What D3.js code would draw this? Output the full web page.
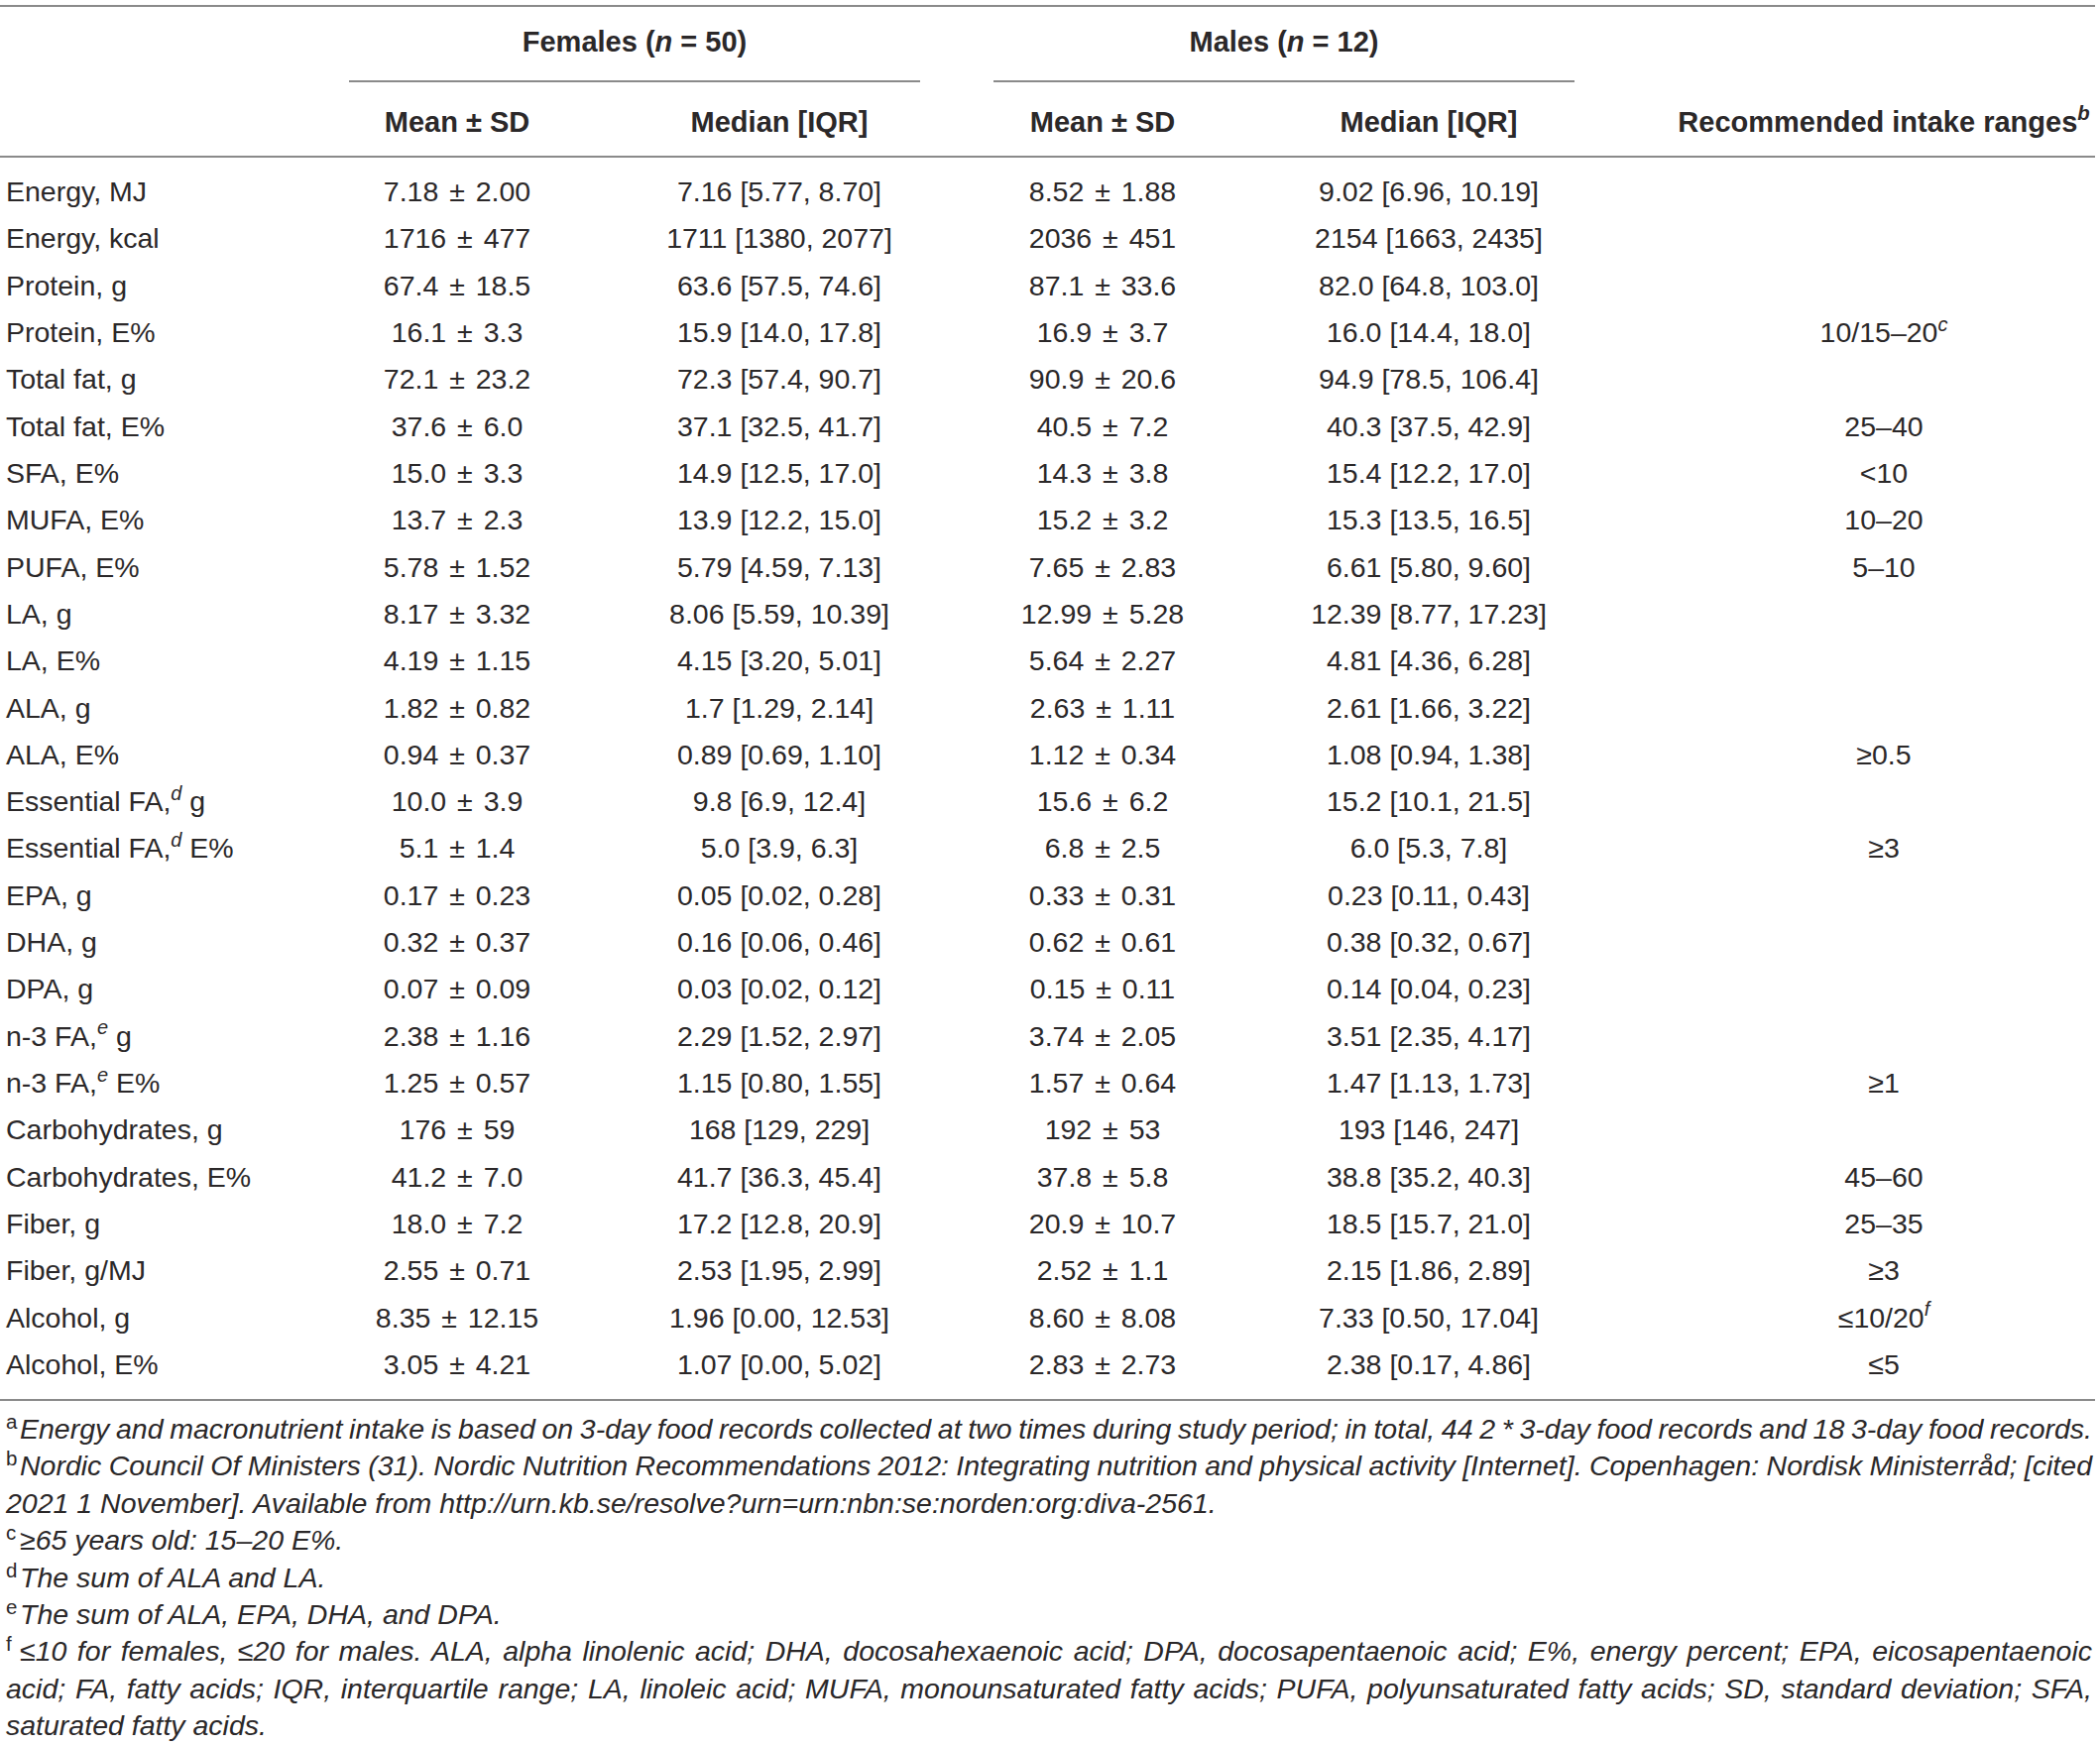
<!DOCTYPE html>
<html>
<head>
<meta charset="utf-8">
<script src="https://cdn.jsdelivr.net/npm/d3@7"></script>
<style>
  body { margin: 0; background: #fff; }
  text { font-family: "Liberation Sans", Arial, sans-serif; fill: #2b2829; }
</style>
</head>
<body>
<svg id="chart"></svg>
<script>
// ^x^ = italic superscript, _x_ = italic
const rowLabels = [
  "Energy, MJ", "Energy, kcal", "Protein, g", "Protein, E%", "Total fat, g", "Total fat, E%",
  "SFA, E%", "MUFA, E%", "PUFA, E%", "LA, g", "LA, E%", "ALA, g", "ALA, E%",
  "Essential FA,^d^ g", "Essential FA,^d^ E%", "EPA, g", "DHA, g", "DPA, g",
  "n-3 FA,^e^ g", "n-3 FA,^e^ E%", "Carbohydrates, g", "Carbohydrates, E%",
  "Fiber, g", "Fiber, g/MJ", "Alcohol, g", "Alcohol, E%"
];
const femaleMean = [
  "7.18 ± 2.00", "1716 ± 477", "67.4 ± 18.5", "16.1 ± 3.3", "72.1 ± 23.2", "37.6 ± 6.0",
  "15.0 ± 3.3", "13.7 ± 2.3", "5.78 ± 1.52", "8.17 ± 3.32", "4.19 ± 1.15", "1.82 ± 0.82",
  "0.94 ± 0.37", "10.0 ± 3.9", "5.1 ± 1.4", "0.17 ± 0.23", "0.32 ± 0.37", "0.07 ± 0.09",
  "2.38 ± 1.16", "1.25 ± 0.57", "176 ± 59", "41.2 ± 7.0", "18.0 ± 7.2", "2.55 ± 0.71",
  "8.35 ± 12.15", "3.05 ± 4.21"
];
const femaleMedian = [
  "7.16 [5.77, 8.70]", "1711 [1380, 2077]", "63.6 [57.5, 74.6]", "15.9 [14.0, 17.8]",
  "72.3 [57.4, 90.7]", "37.1 [32.5, 41.7]", "14.9 [12.5, 17.0]", "13.9 [12.2, 15.0]",
  "5.79 [4.59, 7.13]", "8.06 [5.59, 10.39]", "4.15 [3.20, 5.01]", "1.7 [1.29, 2.14]",
  "0.89 [0.69, 1.10]", "9.8 [6.9, 12.4]", "5.0 [3.9, 6.3]", "0.05 [0.02, 0.28]",
  "0.16 [0.06, 0.46]", "0.03 [0.02, 0.12]", "2.29 [1.52, 2.97]", "1.15 [0.80, 1.55]",
  "168 [129, 229]", "41.7 [36.3, 45.4]", "17.2 [12.8, 20.9]", "2.53 [1.95, 2.99]",
  "1.96 [0.00, 12.53]", "1.07 [0.00, 5.02]"
];
const maleMean = [
  "8.52 ± 1.88", "2036 ± 451", "87.1 ± 33.6", "16.9 ± 3.7", "90.9 ± 20.6", "40.5 ± 7.2",
  "14.3 ± 3.8", "15.2 ± 3.2", "7.65 ± 2.83", "12.99 ± 5.28", "5.64 ± 2.27", "2.63 ± 1.11",
  "1.12 ± 0.34", "15.6 ± 6.2", "6.8 ± 2.5", "0.33 ± 0.31", "0.62 ± 0.61", "0.15 ± 0.11",
  "3.74 ± 2.05", "1.57 ± 0.64", "192 ± 53", "37.8 ± 5.8", "20.9 ± 10.7", "2.52 ± 1.1",
  "8.60 ± 8.08", "2.83 ± 2.73"
];
const maleMedian = [
  "9.02 [6.96, 10.19]", "2154 [1663, 2435]", "82.0 [64.8, 103.0]", "16.0 [14.4, 18.0]",
  "94.9 [78.5, 106.4]", "40.3 [37.5, 42.9]", "15.4 [12.2, 17.0]", "15.3 [13.5, 16.5]",
  "6.61 [5.80, 9.60]", "12.39 [8.77, 17.23]", "4.81 [4.36, 6.28]", "2.61 [1.66, 3.22]",
  "1.08 [0.94, 1.38]", "15.2 [10.1, 21.5]", "6.0 [5.3, 7.8]", "0.23 [0.11, 0.43]",
  "0.38 [0.32, 0.67]", "0.14 [0.04, 0.23]", "3.51 [2.35, 4.17]", "1.47 [1.13, 1.73]",
  "193 [146, 247]", "38.8 [35.2, 40.3]", "18.5 [15.7, 21.0]", "2.15 [1.86, 2.89]",
  "7.33 [0.50, 17.04]", "2.38 [0.17, 4.86]"
];
const recommended = [
  "", "", "", "10/15–20^c^", "", "25–40", "<10", "10–20", "5–10", "", "", "", "≥0.5",
  "", "≥3", "", "", "", "", "≥1", "", "45–60", "25–35", "≥3", "≤10/20^f^", "≤5"
];
const groupHeaders = ["Females (_n_ = 50)", "Males (_n_ = 12)"];
const subHeaders = ["Mean ± SD", "Median [IQR]", "Mean ± SD", "Median [IQR]", "Recommended intake ranges^b^"];
const footMarks = ["a", "b", "", "c", "d", "e", "f", "", ""];
const footLines = [
  "Energy and macronutrient intake is based on 3-day food records collected at two times during study period; in total, 44 2 * 3-day food records and 18 3-day food records.",
  "Nordic Council Of Ministers (31). Nordic Nutrition Recommendations 2012: Integrating nutrition and physical activity [Internet]. Copenhagen: Nordisk Ministerråd; [cited",
  "2021 1 November]. Available from http://urn.kb.se/resolve?urn=urn:nbn:se:norden:org:diva-2561.",
  "≥65 years old: 15–20 E%.",
  "The sum of ALA and LA.",
  "The sum of ALA, EPA, DHA, and DPA.",
  "≤10 for females, ≤20 for males. ALA, alpha linolenic acid; DHA, docosahexaenoic acid; DPA, docosapentaenoic acid; E%, energy percent; EPA, eicosapentaenoic",
  "acid; FA, fatty acids; IQR, interquartile range; LA, linoleic acid; MUFA, monounsaturated fatty acids; PUFA, polyunsaturated fatty acids; SD, standard deviation; SFA,",
  "saturated fatty acids."
];
const footJustify = [true, true, false, false, false, false, true, true, false];

const W = 2118, H = 1761, fs = 28.5, hfs = 29;
const svg = d3.select("#chart").attr("width", W).attr("height", H);

const colKeys = ["fMean", "fMed", "mMean", "mMed", "rec"];
const x = d3.scaleOrdinal().domain(colKeys).range([461, 786, 1112, 1441, 1900]);
const y = d3.scalePoint().domain(d3.range(rowLabels.length)).range([203, 1386]);
const yFoot = d3.scalePoint().domain(d3.range(footLines.length)).range([1451, 1750]);

// writes a string with ^sup^ and _italic_ markers into a text node
function rich(sel, str, size) {
  const parts = str.split(/(\^[^^]+\^|_[^_]+_)/).filter(p => p !== "");
  let up = false;
  parts.forEach(p => {
    const t = sel.append("tspan");
    if (p[0] === "^") {
      t.text(p.slice(1, -1)).attr("font-style", "italic")
        .attr("font-size", size * 0.7).attr("dy", -size * 0.4);
      up = true;
    } else if (p[0] === "_") {
      t.text(p.slice(1, -1)).attr("font-style", "italic");
      if (up) { t.attr("dy", size * 0.4); up = false; }
    } else {
      t.text(p);
      if (up) { t.attr("dy", size * 0.4); up = false; }
    }
  });
}

const rule = (x1, x2, yy) => svg.append("line")
  .attr("x1", x1).attr("x2", x2).attr("y1", yy).attr("y2", yy)
  .attr("stroke", "#8a8a8a").attr("stroke-width", 2);

rule(0, 2113, 6);
rule(352, 928, 82);
rule(1002, 1588, 82);
rule(0, 2113, 158);
rule(0, 2113, 1412);

// group headers
groupHeaders.forEach((g, i) => {
  const t = svg.append("text")
    .attr("x", i === 0 ? 640 : 1295).attr("y", 52)
    .attr("text-anchor", "middle").attr("font-weight", "bold").attr("font-size", hfs);
  rich(t, g, hfs);
});

subHeaders.forEach((h, i) => {
  const t = svg.append("text")
    .attr("x", x(colKeys[i])).attr("y", 133)
    .attr("text-anchor", "middle").attr("font-weight", "bold").attr("font-size", hfs);
  rich(t, h, hfs);
});

// body
const rows = svg.append("g").selectAll("g")
  .data(rowLabels.map((l, i) => ({
    label: l,
    vals: [femaleMean[i], femaleMedian[i], maleMean[i], maleMedian[i], recommended[i]]
  })))
  .join("g")
  .attr("transform", (d, i) => `translate(0,${y(i)})`);

rows.append("text").attr("x", 6).attr("font-size", fs)
  .each(function (d) { rich(d3.select(this), d.label, fs); });

colKeys.forEach((k, ci) => {
  rows.append("text")
    .attr("x", x(k)).attr("text-anchor", "middle").attr("font-size", fs)
    .attr("word-spacing", k === "fMean" || k === "mMean" ? 3 : 0)
    .each(function (d) { rich(d3.select(this), d.vals[ci], fs); });
});

// footnotes
const feet = svg.append("g").selectAll("g")
  .data(footLines.map((t, i) => ({ t, m: footMarks[i], j: footJustify[i] })))
  .join("g")
  .attr("transform", (d, i) => `translate(0,${yFoot(i)})`);

feet.append("text").attr("x", 6).attr("y", -10).attr("font-size", fs * 0.72)
  .text(d => d.m);

feet.append("text")
  .attr("x", d => d.m ? 20 : 6)
  .attr("font-size", fs).attr("font-style", "italic")
  .text(d => d.t)
  .each(function (d) {
    if (!d.j) return;
    const x0 = +this.getAttribute("x");
    const w = this.getComputedTextLength();
    const gaps = (d.t.match(/ /g) || []).length;
    d3.select(this).attr("word-spacing", (2110 - x0 - w) / gaps);
  });
</script>
</body>
</html>
